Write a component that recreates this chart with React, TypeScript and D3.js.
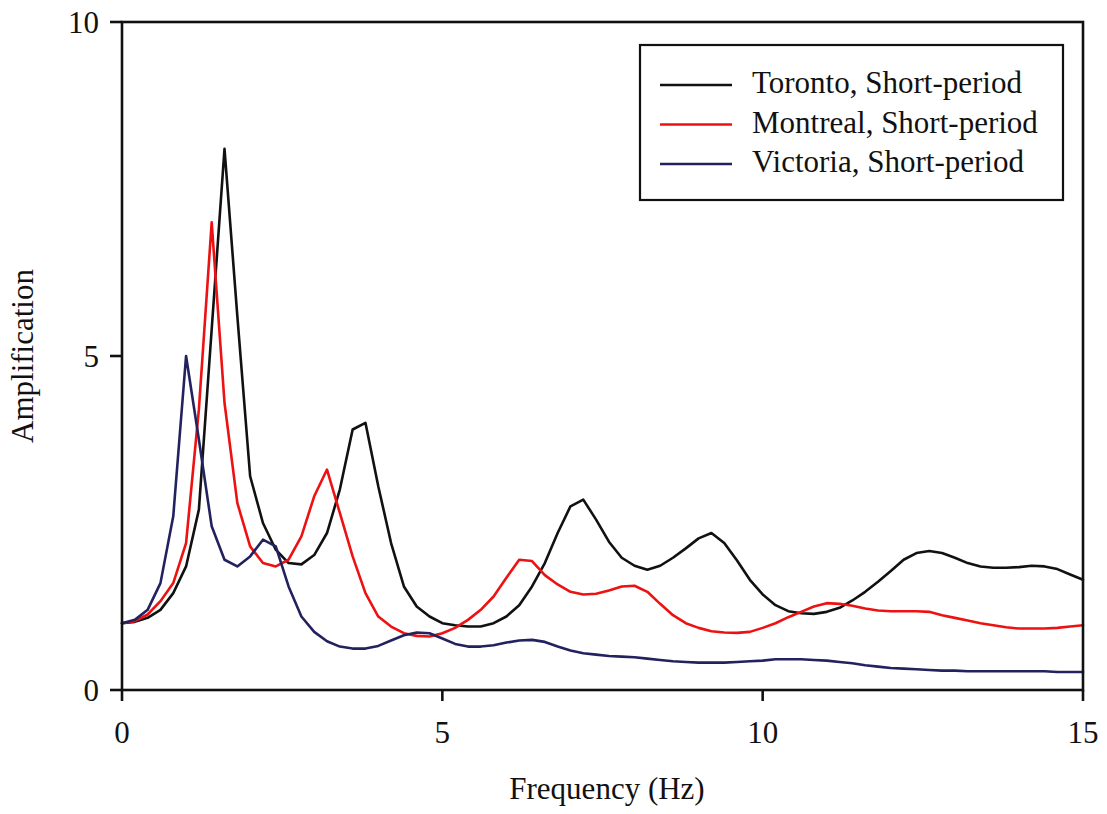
import React from "react";
import * as d3 from "d3";

const freq: number[] = d3.range(0, 76).map((i) => +(i * 0.2).toFixed(1));

const toronto: number[] = [
  1.0, 1.02, 1.08, 1.2, 1.45, 1.85, 2.7, 5.4, 8.1, 5.6,
  3.2, 2.5, 2.1, 1.9, 1.88, 2.02, 2.35, 3.0, 3.9, 4.0,
  3.05, 2.2, 1.55, 1.25, 1.1, 1.0, 0.97, 0.95, 0.95, 1.0,
  1.1, 1.27, 1.55, 1.9, 2.35, 2.75, 2.85, 2.55, 2.22, 1.98,
  1.86, 1.8, 1.86, 1.98, 2.12, 2.27, 2.35, 2.2, 1.94, 1.65,
  1.43, 1.27, 1.18, 1.15, 1.14, 1.17, 1.23, 1.34, 1.47, 1.62,
  1.78, 1.95, 2.05, 2.08, 2.05, 1.98, 1.9, 1.85, 1.83, 1.83,
  1.84, 1.86, 1.85, 1.81, 1.73, 1.65,
];

const montreal: number[] = [
  1.0, 1.03, 1.13, 1.33, 1.6, 2.2, 4.2, 7.0, 4.3, 2.8,
  2.15, 1.9, 1.85, 1.95, 2.3, 2.9, 3.3, 2.65, 2.0, 1.45,
  1.1, 0.95, 0.85, 0.81, 0.8, 0.85, 0.93, 1.05, 1.2, 1.4,
  1.68, 1.95, 1.93, 1.72, 1.58, 1.47, 1.43, 1.44, 1.49, 1.55,
  1.56, 1.47, 1.29, 1.12, 1.0, 0.93, 0.88, 0.86, 0.855, 0.87,
  0.93, 1.0, 1.09, 1.17, 1.25, 1.3, 1.29, 1.26, 1.22, 1.19,
  1.18, 1.18, 1.18, 1.17, 1.12, 1.08, 1.04, 1.0, 0.97, 0.94,
  0.92, 0.92, 0.92, 0.93, 0.95, 0.97,
];

const victoria: number[] = [
  1.0, 1.05, 1.2, 1.6, 2.6, 5.0, 3.75, 2.45, 1.95, 1.85,
  2.0, 2.25, 2.15, 1.55, 1.1, 0.87, 0.73, 0.65, 0.62, 0.62,
  0.66, 0.74, 0.82, 0.86, 0.85, 0.77, 0.69, 0.65, 0.65, 0.67,
  0.71, 0.74, 0.75, 0.72, 0.65, 0.59, 0.55, 0.53, 0.51, 0.5,
  0.49, 0.47, 0.45, 0.43, 0.42, 0.41, 0.41, 0.41, 0.42, 0.43,
  0.44, 0.46, 0.46, 0.46, 0.45, 0.44, 0.42, 0.4, 0.37, 0.35,
  0.33, 0.32, 0.31, 0.3, 0.29, 0.29, 0.28, 0.28, 0.28, 0.28,
  0.28, 0.28, 0.28, 0.27, 0.27, 0.27,
];

const seriesNames: string[] = [
  "Toronto, Short-period",
  "Montreal, Short-period",
  "Victoria, Short-period",
];
const seriesColors: string[] = ["#111111", "#ee1111", "#22225e"];
const seriesValues: number[][] = [toronto, montreal, victoria];

const xTicks: number[] = [0, 5, 10, 15];
const yTicks: number[] = [0, 5, 10];

const W = 1107;
const H = 814;
const left = 122;
const right = 1083;
const top = 22;
const bottom = 690;
const font = "'Liberation Serif', 'Times New Roman', Times, serif";

export default function App() {
  const x = d3.scaleLinear().domain([0, 15]).range([left, right]);
  const y = d3.scaleLinear().domain([0, 10]).range([bottom, top]);
  const line = d3
    .line<[number, number]>()
    .x((d) => x(d[0]))
    .y((d) => y(d[1]))
    .curve(d3.curveLinear);

  return (
    <svg
      width={W}
      height={H}
      style={{ position: "absolute", left: 0, top: 0, background: "#ffffff" }}
      fontFamily={font}
    >
      <rect x={0} y={0} width={W} height={H} fill="#ffffff" />
      {seriesValues.map((vals, i) => (
        <path
          key={seriesNames[i]}
          d={line(vals.map((v, j) => [freq[j], v] as [number, number])) || ""}
          fill="none"
          stroke={seriesColors[i]}
          strokeWidth={2.6}
          strokeLinejoin="round"
          strokeLinecap="round"
        />
      ))}
      {/* frame */}
      <rect
        x={left}
        y={top}
        width={right - left}
        height={bottom - top}
        fill="none"
        stroke="#111"
        strokeWidth={2.6}
      />
      {/* y ticks */}
      {yTicks.map((t) => (
        <g key={"y" + t}>
          <line x1={left - 12} x2={left} y1={y(t)} y2={y(t)} stroke="#111" strokeWidth={2.6} />
          <text x={99} y={y(t) + 11} textAnchor="end" fontSize={31} fill="#111">
            {t}
          </text>
        </g>
      ))}
      {/* x ticks */}
      {xTicks.map((t) => (
        <g key={"x" + t}>
          <line x1={x(t)} x2={x(t)} y1={bottom} y2={bottom + 11} stroke="#111" strokeWidth={2.6} />
          <text x={x(t)} y={743} textAnchor="middle" fontSize={31} fill="#111">
            {t}
          </text>
        </g>
      ))}
      <text x={607} y={799} textAnchor="middle" fontSize={31} fill="#111">
        Frequency (Hz)
      </text>
      <text
        transform={`translate(33, ${(top + bottom) / 2}) rotate(-90)`}
        textAnchor="middle"
        fontSize={31}
        fill="#111"
      >
        Amplification
      </text>
      {/* legend */}
      <rect x={640} y={45} width={423} height={155} fill="#ffffff" stroke="#111" strokeWidth={2.2} />
      {seriesNames.map((name, i) => (
        <g key={"lg" + i}>
          <line
            x1={660}
            x2={732}
            y1={85 + i * 39.5}
            y2={85 + i * 39.5}
            stroke={seriesColors[i]}
            strokeWidth={2.6}
          />
          <text x={752} y={93 + i * 39.5} fontSize={31} fill="#111">
            {name}
          </text>
        </g>
      ))}
    </svg>
  );
}
